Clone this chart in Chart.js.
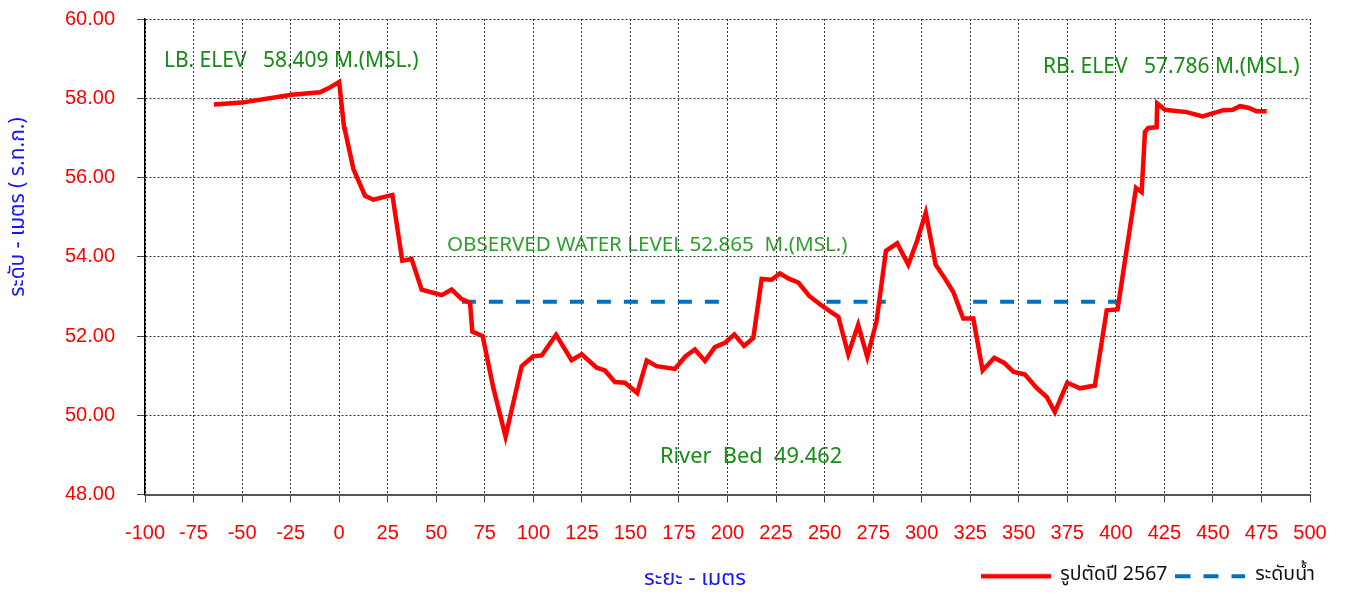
<!DOCTYPE html>
<html>
<head>
<meta charset="utf-8">
<script src="https://cdn.jsdelivr.net/npm/chart.js@4/dist/chart.umd.min.js"></script>
<style>
  body { margin: 0; background: #fff; }
  #wrap { width: 1345px; height: 596px; position: relative; }
</style>
</head>
<body>
<div id="wrap"><canvas id="myChart"></canvas></div>
<script>
// cross-section survey, year 2567
const distances = [-64.5, -50.3, -24.5, -9.9, -5.6, 0, 2.5, 3, 7.3, 13.3, 17.6, 27.4, 32.5, 37.3, 42.5, 52.8, 57.9, 63.1, 67.4, 68.6,
  73.9, 79.4, 85.7, 94, 100, 104.3, 111.7, 119.7, 124.9, 132.6, 136.9, 142, 147.2, 153.5, 158.4, 163.5, 172.9, 178.4, 183.2, 188.4,
  193.5, 198.7, 203.5, 208.5, 213.3, 217.6, 222.7, 227, 231.8, 236.5, 242.1, 247.6, 252.8, 257.1, 262.2, 267.3, 272, 276.8, 281.6, 287.4,
  293.1, 297.7, 302.1, 307.2, 311.6, 316.3, 321.4, 326.6, 331.4, 337.4, 342.5, 347.2, 353.2, 359.2, 364.4, 368.6, 375, 381.5, 389.2, 395.3,
  400.9, 410.4, 413.3, 415, 416.7, 421, 421.3, 425.3, 436.5, 444.7, 455.3, 460.2, 463.9, 468.2, 472.5, 477.7];
const elevations = [57.84, 57.89, 58.09, 58.15, 58.25, 58.409, 57.27, 57.19, 56.22, 55.54, 55.44, 55.56, 53.9, 53.94, 53.17, 53.03, 53.17, 52.93, 52.84, 52.11,
  52.0, 50.69, 49.462, 51.24, 51.49, 51.51, 52.03, 51.39, 51.54, 51.2, 51.13, 50.84, 50.82, 50.56, 51.38, 51.24, 51.17, 51.49, 51.66, 51.37,
  51.72, 51.83, 52.04, 51.75, 51.95, 53.44, 53.42, 53.58, 53.44, 53.35, 53.01, 52.8, 52.62, 52.48, 51.54, 52.28, 51.47, 52.38, 54.15, 54.34,
  53.8, 54.41, 55.11, 53.8, 53.48, 53.11, 52.44, 52.44, 51.13, 51.45, 51.32, 51.1, 51.03, 50.69, 50.46, 50.08, 50.82, 50.68, 50.75, 52.65,
  52.67, 55.74, 55.63, 57.15, 57.25, 57.27, 57.87, 57.71, 57.65, 57.54, 57.7, 57.71, 57.8, 57.76, 57.67, 57.67];

// observed water level, drawn in three pieces (null = gap)
const waterX = [63.2, 199.7, 225, 251, 281.5, 300, 326.5, 401];
const waterY = [52.865, 52.865, null, 52.865, 52.865, null, 52.865, 52.865];

const seriesNames = ["รูปตัดปี 2567", "ระดับน้ำ"];
const xTitle = "ระยะ - เมตร";
const yTitle = "ระดับ - เมตร ( ร.ท.ก.)";

// [text, x, y, colour, font size]
const notes = [
  ["LB. ELEV   58.409 M.(MSL.)", -90.2, 58.94, "#168c16", 21],
  ["RB. ELEV   57.786 M.(MSL.)", 362.5, 58.78, "#168c16", 21],
  ["OBSERVED WATER LEVEL 52.865  M.(MSL.)", 55.5, 54.3, "#2e9e2e", 20.6],
  ["River  Bed  49.462", 165.2, 48.96, "#168c16", 21.8],
];

const thaiFont = "'Noto Sans Thai', 'Loma', 'Garuda', 'Tahoma', 'Liberation Sans', sans-serif";

// little line pictures for the legend
function legendLine(color, width, dash) {
  const c = document.createElement("canvas");
  c.width = 70; c.height = 8;
  const g = c.getContext("2d");
  g.strokeStyle = color;
  g.lineWidth = width;
  g.setLineDash(dash);
  g.beginPath(); g.moveTo(0, 4); g.lineTo(70, 4); g.stroke();
  return c;
}
const legendIcons = [legendLine("#ff0000", 4.5, []), legendLine("#0070c0", 4, [15, 13])];

const textPlugin = {
  id: "texts",
  beforeDraw(chart) {
    const { ctx, scales: { x, y } } = chart;
    ctx.save();
    ctx.textBaseline = "middle";
    ctx.textAlign = "left";
    notes.forEach(n => {
      ctx.fillStyle = n[3];
      ctx.font = n[4] + "px 'Noto Sans', 'Open Sans', sans-serif";
      ctx.fillText(n[0], x.getPixelForValue(n[1]), y.getPixelForValue(n[2]));
    });
    // axis titles
    ctx.fillStyle = "#1414ff";
    ctx.textAlign = "center";
    ctx.font = "22px " + thaiFont;
    ctx.fillText(xTitle, 695, 581);
    ctx.font = "21px " + thaiFont;
    ctx.translate(20, 207);
    ctx.rotate(-Math.PI / 2);
    ctx.fillText(yTitle, 0, 0);
    ctx.restore();
  }
};

new Chart("myChart", {
  type: "line",
  data: {
    datasets: [
      {
        label: seriesNames[0],
        data: distances.map((d, i) => ({ x: d, y: elevations[i] })),
        borderColor: "#ff0000",
        backgroundColor: "#ff0000",
        borderWidth: 4.5,
        pointRadius: 0,
        tension: 0,
      },
      {
        label: seriesNames[1],
        data: waterX.map((d, i) => ({ x: d, y: waterY[i] })),
        borderColor: "#0070c0",
        backgroundColor: "#0070c0",
        borderWidth: 4,
        borderDash: [14, 13],
        pointRadius: 0,
        spanGaps: false,
      },
    ],
  },
  options: {
    responsive: true,
    maintainAspectRatio: false,
    animation: false,
    layout: { padding: { top: 19, right: 22, left: 0, bottom: 0 } },
    plugins: {
      tooltip: { enabled: false },
      legend: {
        position: "bottom",
        align: "end",
        labels: {
          usePointStyle: true,
          pointStyleWidth: 70,
          boxWidth: 70,
          color: "#111",
          padding: 8,
          font: { family: thaiFont, size: 19.5 },
          generateLabels: chart => {
            const items = Chart.defaults.plugins.legend.labels.generateLabels(chart);
            items.forEach((it, i) => { it.pointStyle = legendIcons[i]; });
            return items;
          },
        },
      },
    },
    scales: {
      x: {
        type: "linear",
        min: -100,
        max: 500,
        afterFit: s => { s.height = 64; s.paddingRight = 35; },
        ticks: { stepSize: 25, color: "#ff0000", padding: 19, font: { family: "'Liberation Sans', Arial", size: 20 } },
        grid: { color: "#333", tickLength: 8, tickBorderDash: [], tickColor: "#444" },
        border: { color: "#555", width: 2, dash: [2, 2] },
      },
      y: {
        min: 48,
        max: 60,
        afterFit: s => { s.width = 145; s.paddingTop = 12; s.paddingBottom = 12; },
        ticks: { stepSize: 2, color: "#ff0000", padding: 22, font: { family: "'Liberation Sans', Arial", size: 20 },
          callback: v => v.toFixed(2) },
        grid: { color: "#333", tickLength: 8, tickBorderDash: [], tickColor: "#444" },
        border: { color: "#000", width: 1.5, dash: [2, 2] },
      },
    },
  },
  plugins: [textPlugin],
});
</script>
</body>
</html>
